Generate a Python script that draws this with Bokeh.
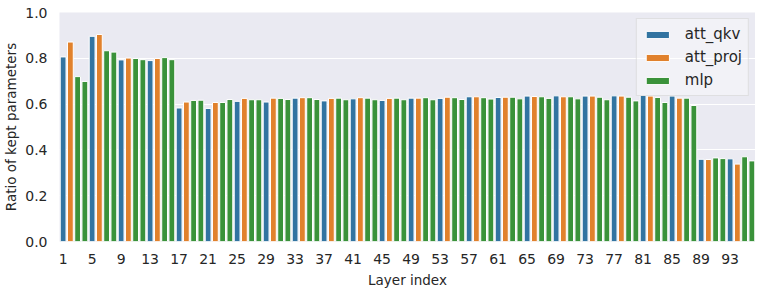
from bokeh.plotting import figure
from bokeh.models import ColumnDataSource, FixedTicker, CustomJSTickFormatter
from bokeh.embed import file_html
from bokeh.resources import INLINE

# ---- data ----
layers = list(range(1, 97))
block_types = ["att_qkv", "att_proj", "mlp", "mlp"]
layer_types = block_types * 24
ratios = [
    0.806, 0.871, 0.720, 0.699, 0.896, 0.904, 0.833, 0.827,
    0.793, 0.801, 0.799, 0.794, 0.790, 0.799, 0.803, 0.794,
    0.583, 0.609, 0.616, 0.617, 0.581, 0.607, 0.607, 0.620,
    0.612, 0.625, 0.619, 0.619, 0.609, 0.626, 0.625, 0.620,
    0.626, 0.628, 0.628, 0.620, 0.614, 0.625, 0.626, 0.619,
    0.623, 0.628, 0.626, 0.619, 0.616, 0.625, 0.626, 0.619,
    0.626, 0.626, 0.628, 0.619, 0.625, 0.630, 0.628, 0.620,
    0.632, 0.632, 0.628, 0.622, 0.629, 0.630, 0.630, 0.623,
    0.635, 0.633, 0.632, 0.625, 0.636, 0.632, 0.632, 0.623,
    0.635, 0.635, 0.630, 0.619, 0.636, 0.635, 0.630, 0.614,
    0.638, 0.635, 0.629, 0.607, 0.635, 0.626, 0.626, 0.594,
    0.359, 0.358, 0.365, 0.362, 0.361, 0.338, 0.370, 0.352,
]
type_names = ["att_qkv", "att_proj", "mlp"]
type_colors = ["#3274A1", "#E1812C", "#3A923A"]
x_ticks = list(range(1, 97, 4))
y_ticks = [0.0, 0.2, 0.4, 0.6, 0.8, 1.0]

TEXT = "#262626"
FONT = "DejaVu Sans"

p = figure(width=755, height=290, output_backend="svg", toolbar_location=None,
           x_range=(0.5, 96.5), y_range=(0, 1.0),
           min_border_left=57, min_border_right=0, min_border_top=12, min_border_bottom=48)

for name, color in zip(type_names, type_colors):
    xs = [l for l, t in zip(layers, layer_types) if t == name]
    ys = [r for r, t in zip(ratios, layer_types) if t == name]
    src = ColumnDataSource(dict(x=xs, top=ys))
    p.vbar(x="x", top="top", width=0.8, bottom=0, source=src,
           fill_color=color, line_color="white", line_width=1,
           legend_label=name)

p.background_fill_color = "#EAEAF2"
p.border_fill_color = "white"
p.outline_line_color = None
p.xgrid.grid_line_color = None
p.ygrid.grid_line_color = "white"
p.ygrid.grid_line_width = 1
p.ygrid.ticker = FixedTicker(ticks=y_ticks)

p.xaxis.ticker = FixedTicker(ticks=x_ticks)
p.yaxis.ticker = FixedTicker(ticks=y_ticks)
p.yaxis.formatter = CustomJSTickFormatter(code="return tick.toFixed(1);")

for ax in (p.xaxis[0], p.yaxis[0]):
    ax.axis_line_color = None
    ax.major_tick_line_color = None
    ax.minor_tick_line_color = None
    ax.major_tick_in = 0
    ax.major_tick_out = 0
    ax.minor_tick_in = 0
    ax.minor_tick_out = 0
    ax.major_label_text_font = FONT
    ax.major_label_text_font_size = "14px"
    ax.major_label_text_color = TEXT
    ax.axis_label_text_font = FONT
    ax.axis_label_text_font_size = "13.5px"
    ax.axis_label_text_font_style = "normal"
    ax.axis_label_text_color = TEXT

p.xaxis.axis_label = "Layer index"
p.yaxis.axis_label = "Ratio of kept parameters"
p.xaxis.major_label_standoff = 12
p.xaxis.axis_label_standoff = 5
p.yaxis.major_label_standoff = 12
p.yaxis.axis_label_standoff = 3

lg = p.legend[0]
lg.location = "top_right"
lg.margin = 6
lg.padding = 6
lg.spacing = 5
lg.glyph_width = 29
lg.glyph_height = 9
lg.label_height = 15
lg.label_standoff = 13
lg.label_text_font = FONT
lg.label_text_font_size = "15px"
lg.label_text_color = TEXT
lg.border_line_color = "#CCCCCC"
lg.border_line_width = 1
lg.background_fill_color = "white"
lg.background_fill_alpha = 0.4

open("out.html", "w").write(file_html(p, INLINE))
